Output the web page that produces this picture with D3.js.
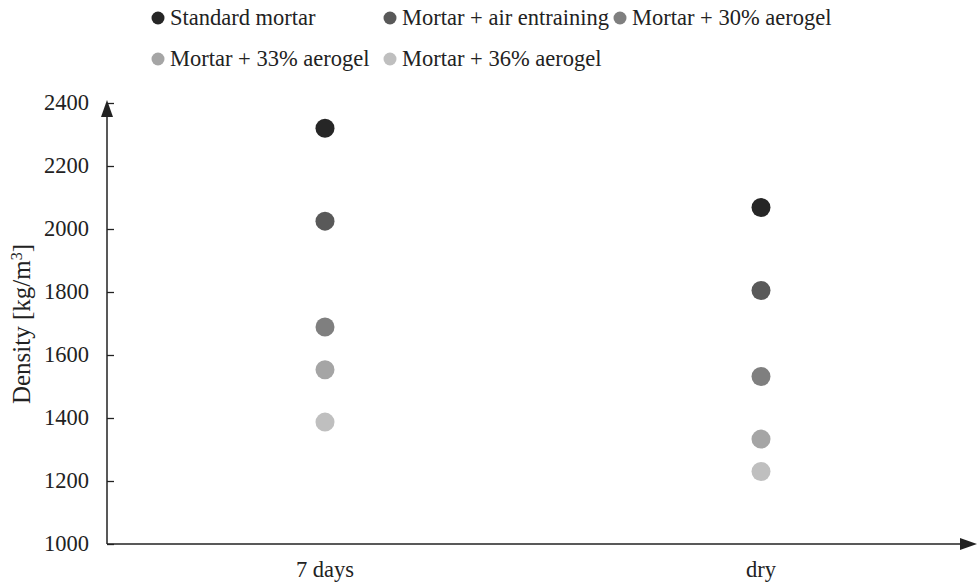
<!DOCTYPE html>
<html>
<head>
<meta charset="utf-8">
<script src="https://cdn.jsdelivr.net/npm/d3@7.9.0/dist/d3.min.js"></script>
<style>
  body { margin: 0; background: #fff; }
</style>
</head>
<body>
<svg id="chart" width="977" height="584"></svg>
<script>
const categories = ["7 days", "dry"];
const seriesNames = ["Standard mortar", "Mortar + air entraining", "Mortar + 30% aerogel",
  "Mortar + 33% aerogel", "Mortar + 36% aerogel"];
const standard = [2320, 2068];
const airEntraining = [2025, 1805];
const aerogel30 = [1689, 1532];
const aerogel33 = [1553, 1333];
const aerogel36 = [1387, 1230];
const yTicks = [1000, 1200, 1400, 1600, 1800, 2000, 2200, 2400];
const colors = ["#262626", "#595959", "#7f7f7f", "#a5a5a5", "#bfbfbf"];

const allSeries = [standard, airEntraining, aerogel30, aerogel33, aerogel36];

const font = "'Liberation Serif', 'DejaVu Serif', serif";
const fs = 22.5;
const svg = d3.select("#chart").attr("font-family", font);
const mLeft = 107, mRight = 979, mTop = 103, mBottom = 544;

const x = d3.scaleBand().domain(categories).range([mLeft, mRight]);
const y = d3.scaleLinear().domain([1000, 2400]).range([mBottom, mTop]);

// axes
const axisColor = "#222";
const yAxis = svg.append("g").attr("transform", `translate(${mLeft},0)`)
  .call(d3.axisRight(y).tickValues(yTicks).tickSize(7).tickFormat(""));
yAxis.select(".domain").remove();
yAxis.selectAll("line").attr("stroke", axisColor).attr("stroke-width", 1.3);

svg.append("line").attr("x1", mLeft).attr("x2", mLeft).attr("y1", mBottom).attr("y2", 112)
  .attr("stroke", axisColor).attr("stroke-width", 1.5);
svg.append("path").attr("d", `M${mLeft - 6},${117} L${mLeft + 6},${117} L${mLeft},${100} Z`)
  .attr("fill", axisColor);

svg.append("line").attr("x1", mLeft).attr("x2", 968).attr("y1", mBottom).attr("y2", mBottom)
  .attr("stroke", axisColor).attr("stroke-width", 1.5);
svg.append("path").attr("d", `M${960},${mBottom - 6} L${960},${mBottom + 6} L${977},${mBottom} Z`)
  .attr("fill", axisColor);

// tick labels
svg.append("g").selectAll("text").data(yTicks).join("text")
  .attr("x", 89).attr("y", d => y(d)).attr("dy", "0.33em")
  .attr("text-anchor", "end").attr("font-size", fs).attr("fill", "#222")
  .attr("font-family", font)
  .text(d => d);

svg.append("g").selectAll("text").data(categories).join("text")
  .attr("x", d => x(d) + x.bandwidth() / 2).attr("y", 577)
  .attr("text-anchor", "middle").attr("font-size", fs).attr("fill", "#222")
  .attr("font-family", font)
  .text(d => d);

// y label
const yl = svg.append("text").attr("transform", "translate(30,324) rotate(-90)")
  .attr("text-anchor", "middle").attr("font-size", 25).attr("fill", "#222")
  .attr("font-family", font);
yl.append("tspan").text("Density [kg/m");
yl.append("tspan").attr("baseline-shift", "super").attr("font-size", 16).text("3");
yl.append("tspan").text("]");

// points
allSeries.forEach((vals, si) => {
  svg.append("g").selectAll("circle").data(vals).join("circle")
    .attr("cx", (d, i) => x(categories[i]) + x.bandwidth() / 2)
    .attr("cy", d => y(d))
    .attr("r", 9.5)
    .attr("fill", colors[si]);
});

// legend
const legendPos = [[158, 18], [390, 18], [620, 18], [158, 59], [390, 59]];
const lg = svg.append("g").selectAll("g").data(seriesNames).join("g")
  .attr("transform", (d, i) => `translate(${legendPos[i][0]},${legendPos[i][1]})`);
lg.append("circle").attr("r", 6.5).attr("fill", (d, i) => colors[i]);
lg.append("text").attr("x", 12).attr("dy", "0.33em").attr("font-size", fs).attr("fill", "#222")
  .attr("font-family", font)
  .text(d => d);
</script>
</body>
</html>
